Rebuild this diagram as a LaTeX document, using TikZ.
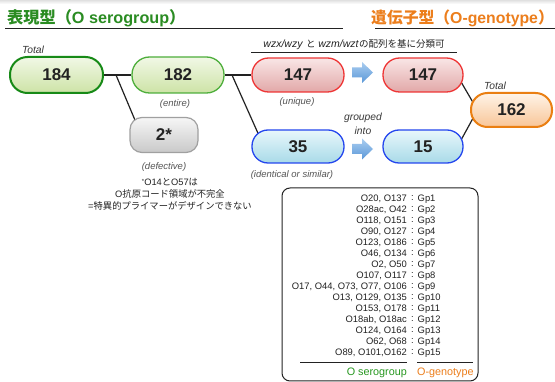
\documentclass[tikz,border=0pt]{standalone}
\usepackage{fontspec}
\setmainfont{Liberation Sans}
\newfontfamily\jp{Noto Sans CJK JP}
\usetikzlibrary{backgrounds}
\definecolor{tgreen}{HTML}{2A8C22}
\definecolor{torange}{HTML}{EC7E1C}
\definecolor{gbA}{HTML}{178A17}
\definecolor{gbB}{HTML}{4DAE3B}
\definecolor{gtop}{HTML}{F1F8E6}
\definecolor{gbot}{HTML}{CDE3A6}
\definecolor{graytop}{HTML}{F6F6F6}
\definecolor{graybot}{HTML}{C9C9C9}
\definecolor{grayb}{HTML}{A0A0A0}
\definecolor{rtop}{HTML}{F9E6E6}
\definecolor{rbot}{HTML}{E2A8A8}
\definecolor{rb}{HTML}{EE3535}
\definecolor{btop}{HTML}{E8F7FB}
\definecolor{bbot}{HTML}{A8DAE8}
\definecolor{bb}{HTML}{2446EE}
\definecolor{otop}{HTML}{FFF4E8}
\definecolor{obot}{HTML}{F8C597}
\definecolor{ob}{HTML}{EA7F12}
\definecolor{atop}{HTML}{A9CDF0}
\definecolor{abot}{HTML}{5B98D8}
\definecolor{lbl}{HTML}{555555}
\definecolor{txt}{HTML}{222222}
\begin{document}
\begin{tikzpicture}[x=1pt,y=-1pt,
  pill/.style={draw, inner sep=0pt, font=\fontsize{17}{19}\selectfont\bfseries, text=txt},
  gpillA/.style={pill, draw=gbA, line width=2pt, top color=gtop, bottom color=gbot, minimum width=93pt, minimum height=36pt, rounded corners=17.5pt},
  gpillB/.style={pill, draw=gbB, line width=1.3pt, top color=gtop, bottom color=gbot, minimum width=92pt, minimum height=36pt, rounded corners=17.5pt},
  graypill/.style={pill, draw=grayb, line width=1.2pt, top color=graytop, bottom color=graybot, minimum width=68pt, minimum height=35pt, rounded corners=12pt},
  rpill/.style={pill, draw=rb, line width=1.3pt, top color=rtop, bottom color=rbot, minimum width=92pt, minimum height=34pt, rounded corners=16.5pt},
  bpill/.style={pill, draw=bb, line width=1.3pt, top color=btop, bottom color=bbot, minimum width=92pt, minimum height=33pt, rounded corners=16pt},
  opill/.style={pill, draw=ob, line width=2pt, top color=otop, bottom color=obot, minimum width=81pt, minimum height=34pt, rounded corners=16.5pt},
  conn/.style={draw=txt, line width=1.2pt},
  itl/.style={font=\fontsize{9.5}{11}\selectfont\itshape, text=lbl, inner sep=0pt},
  totl/.style={font=\fontsize{10.3}{12}\selectfont\itshape, text=txt!90, inner sep=0pt},
  lst/.style={font=\fontsize{9.4}{11}\selectfont, text=txt, inner sep=0pt},
  note/.style={font=\fontsize{9.3}{11}\selectfont, text=txt, inner sep=0pt}
]
\useasboundingbox (0,0) rectangle (555,382);

% titles
\node[anchor=west, inner sep=0pt, text=tgreen, font=\fontsize{16.2}{18}\selectfont\bfseries] (tl) at (7,18) {{\jp\bfseries 表現型（}O serogroup{\jp\bfseries ）}};
\draw[line width=1pt, draw=txt] (5,29) -- (343,29);
\node[anchor=east, inner sep=0pt, text=torange, font=\fontsize{15.8}{18}\selectfont\bfseries] (tr) at (554,18) {{\jp\bfseries 遺伝子型（}O-genotype{\jp\bfseries ）}};
\draw[line width=1pt, draw=txt] (375,29) -- (555,29);

% header
\node[inner sep=0pt, text=txt, font=\fontsize{10.5}{12}\selectfont] (hdr) at (354,45) {\textit{wzx/wzy} {\jp\fontsize{9.5}{12}\selectfont と} \textit{wzm/wzt}{\jp\fontsize{9.5}{12}\selectfont の配列を基に分類可}};
\draw[line width=0.8pt, draw=txt] (251,52.5) -- (457,52.5);

% nodes
\node[gpillA] (n184) at (56.5,75) {184};
\node[gpillB] (n182) at (178,75) {182};
\node[graypill] (n2) at (164,135) {2*};
\node[rpill] (n147a) at (298,75) {147};
\node[rpill, minimum width=80pt] (n147b) at (423,75) {147};
\node[bpill] (n35) at (298,146.5) {35};
\node[bpill, minimum width=80pt] (n15) at (423,146.5) {15};
\node[opill] (n162) at (511.5,110) {162};

% connectors
\coordinate (b1) at (116,75);
\coordinate (t2) at (140,132);
\coordinate (b2) at (232,75);
\coordinate (t35) at (261,140);
\coordinate (s1) at (457,75);
\coordinate (e1) at (478,111);
\coordinate (s2) at (457.5,146.5);
\coordinate (e2) at (477.5,110);
\begin{scope}[on background layer]
\fill[white] (0,0) rectangle (555,382);
\shade[top color=black!12, bottom color=white] (0,0) rectangle (555,4);
\draw[conn] (n184) -- (n182);
\draw[conn] (b1) -- (t2);
\draw[conn] (n182) -- (n147a);
\draw[conn] (b2) -- (t35);
\draw[conn] (s1) -- (e1);
\draw[conn] (s2) -- (e2);
\end{scope}

% block arrows
\shade[top color=atop, bottom color=abot] (352,67.5) -- (362,67.5) -- (362,62) -- (373,72.5) -- (362,83) -- (362,77.5) -- (352,77.5) -- cycle;
\shade[top color=atop, bottom color=abot] (352,144) -- (362,144) -- (362,138.5) -- (373,149) -- (362,159.5) -- (362,154) -- (352,154) -- cycle;

% labels
\node[totl] (tot1) at (33,50) {Total};
\node[totl] (tot2) at (495,86) {Total};
\node[itl] (l182) at (175,104) {(entire)};
\node[itl] (l2) at (164,167) {(defective)};
\node[itl] (l147) at (297,102) {(unique)};
\node[itl] (l35) at (292,175) {(identical or similar)};
\node[totl] (g1) at (363,118) {grouped};
\node[totl] (g2) at (363,130.5) {into};

% note
\node[note] (nt1) at (170,182) {\raisebox{1.5pt}{\fontsize{6}{7}\selectfont *}O14{\jp と}O57{\jp は}};
\node[note] (nt2) at (170,194) {O{\jp 抗原コード領域が不完全}};
\node[note] (nt3) at (170,205.5) {={\jp 特異的プライマーがデザインできない}};

% list box
\draw[draw=txt, line width=1pt, rounded corners=8pt] (282,188) rectangle (478,381);
\foreach \s/\g [count=\i from 0] in {{O20, O137}/Gp1, {O28ac, O42}/Gp2, {O118, O151}/Gp3, {O90, O127}/Gp4, {O123, O186}/Gp5, {O46, O134}/Gp6, {O2, O50}/Gp7, {O107, O117}/Gp8, {O17, O44, O73, O77, O106}/Gp9, {O13, O129, O135}/Gp10, {O153, O178}/Gp11, {O18ab, O18ac}/Gp12, {O124, O164}/Gp13, {O62, O68}/Gp14, {O89, O101,O162}/Gp15}{
  \node[lst, anchor=east] (s\i) at (407,199+11*\i) {\s};
  \node[lst] (c\i) at (412.5,198.5+11*\i) {:};
  \node[lst, anchor=west] (gp\i) at (417.5,199+11*\i) {\g};
}
\draw[draw=txt, line width=1pt] (300,363) -- (407,363);
\draw[draw=txt, line width=1pt] (417,363) -- (473,363);
\node[anchor=east, inner sep=0pt, text=tgreen!90!green, font=\fontsize{10.8}{12}\selectfont] (ls) at (407,373) {O serogroup};
\node[anchor=west, inner sep=0pt, text=torange, font=\fontsize{10.8}{12}\selectfont] (lg) at (417,373) {O-genotype};
\end{tikzpicture}
\end{document}
